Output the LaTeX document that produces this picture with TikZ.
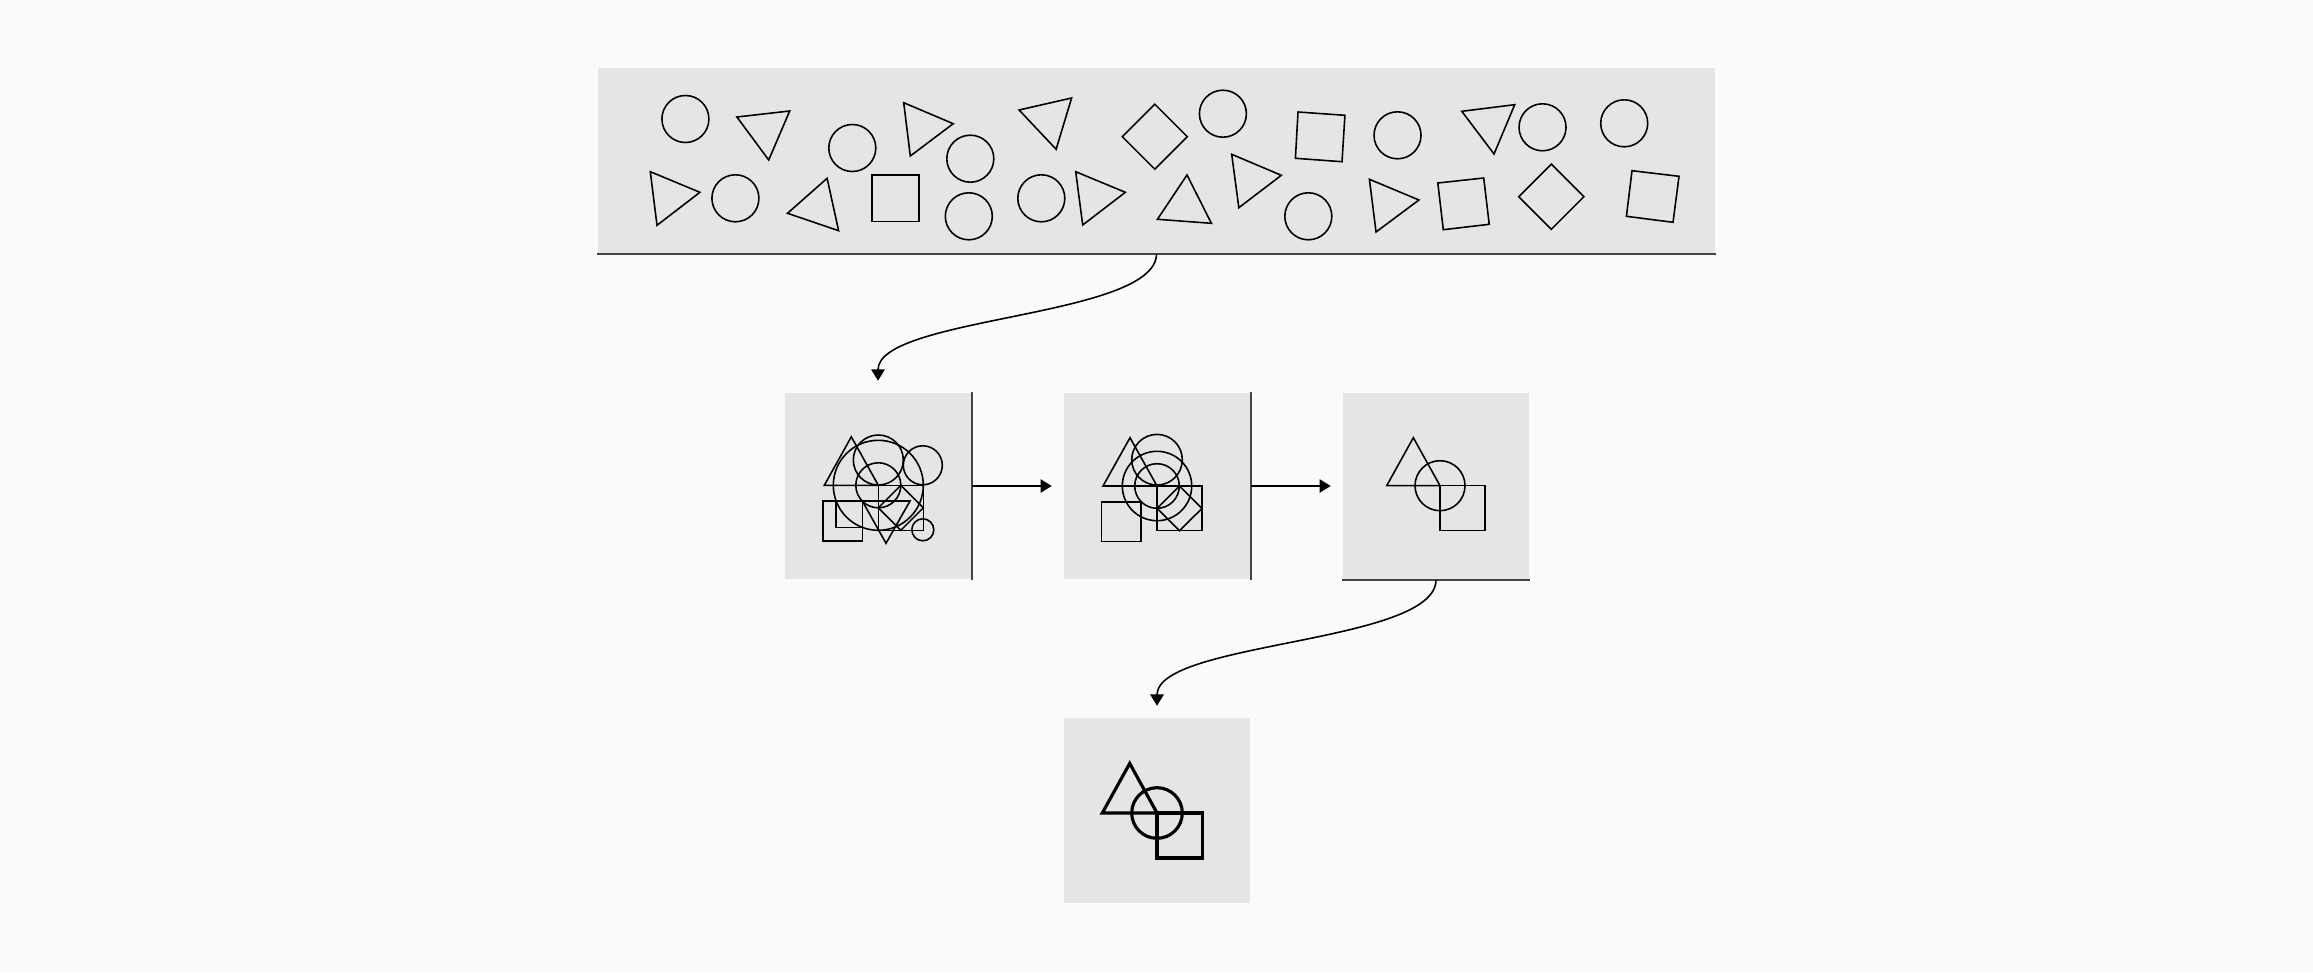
\documentclass[tikz,border=0pt]{standalone}
\usepackage{tikz}
\usetikzlibrary{arrows.meta}
\definecolor{paper}{RGB}{250,250,250}
\definecolor{panel}{RGB}{229,229,229}
\definecolor{rim}{RGB}{68,68,68}

\begin{document}
\begin{tikzpicture}[x=0.01cm, y=-0.01cm,
        box/.style={fill=panel, inner sep=0pt, minimum width=1.86cm, minimum height=1.86cm},
        outline/.style={draw=black, line width=0.45pt},
        heavy/.style={draw=black, line width=0.9pt},
        rimline/.style={rim, line width=0.6pt},
        link/.style={black, line width=0.45pt, -{Triangle[length=3.2pt,width=3.8pt]}, shorten >=0.115cm}]
            \fill[paper]                                      (0,0) rectangle (2313,973);
            \useasboundingbox                                 (0,0) rectangle (2313,973);
            \node[box, minimum width=11.17cm, minimum height=1.85cm] (pool)   at (1156.5,160.5) {};
            \node[box]                                                  (mixA)   at ( 878.0,486.0) {};
            \node[box]                                                  (mixB)   at (1157.0,486.0) {};
            \node[box]                                                  (mixC)   at (1436.0,486.0) {};
            \node[box, minimum height=1.85cm]                           (result) at (1157.0,810.5) {};
            \draw[rimline] (pool.south west) -- (pool.south east);
            \draw[rimline] (mixA.north east) -- (mixA.south east);
            \draw[rimline] (mixB.north east) -- (mixB.south east);
            \draw[rimline] (mixC.south west) -- (mixC.south east);
            \draw[link] (pool.south) .. controls +(0,64) and +(0,-76) .. (mixA.north);
            \draw[link] (mixA.east) -- (mixB.west);
            \draw[link] (mixB.east) -- (mixC.west);
            \draw[link] (mixC.south) .. controls +(0,64) and +(0,-76) .. (result.north);
            \draw[outline] ( 685.4,119.0) circle (23.5);
            \draw[outline] ( 852.3,148.0) circle (23.5);
            \draw[outline] ( 970.3,158.7) circle (23.5);
            \draw[outline] ( 735.4,198.3) circle (23.5);
            \draw[outline] ( 968.8,216.3) circle (23.5);
            \draw[outline] (1041.3,198.3) circle (23.5);
            \draw[outline] (1222.9,113.7) circle (23.5);
            \draw[outline] (1397.5,135.3) circle (23.5);
            \draw[outline] (1542.5,127.3) circle (23.5);
            \draw[outline] (1624.2,123.3) circle (23.5);
            \draw[outline] (1308.3,216.3) circle (23.5);
            \draw[outline] ( 736.9,117.0) -- ( 789.7,111.0) -- ( 768.7,160.0) -- cycle;
            \draw[outline] ( 903.7,102.7) -- ( 953.2,123.7) -- ( 910.3,156.0) -- cycle;
            \draw[outline] (1019.1,110.0) -- (1071.6, 98.0) -- (1056.1,149.3) -- cycle;
            \draw[outline] ( 650.3,171.7) -- ( 699.9,192.3) -- ( 657.0,225.3) -- cycle;
            \draw[outline] ( 787.5,213.3) -- ( 827.1,178.3) -- ( 838.6,230.7) -- cycle;
            \draw[outline] (1075.7,171.7) -- (1125.3,192.3) -- (1082.7,225.0) -- cycle;
            \draw[outline] (1187.0,175.0) -- (1157.4,219.3) -- (1211.4,223.3) -- cycle;
            \draw[outline] (1231.7,154.3) -- (1281.3,175.3) -- (1238.8,207.7) -- cycle;
            \draw[outline] (1461.8,111.3) -- (1514.7,104.7) -- (1494.0,154.0) -- cycle;
            \draw[outline] (1369.4,179.3) -- (1418.9,200.0) -- (1376.0,232.0) -- cycle;
            \draw[outline] ( 872.2,175.0) rectangle ( 919.2,221.7);
            \draw[outline] (1298.0,112.0) -- (1344.9,115.3) -- (1342.0,161.7) -- (1295.4,158.3) -- cycle;
            \draw[outline] (1437.8,183.0) -- (1483.7,178.0) -- (1489.2,224.3) -- (1443.3,229.7) -- cycle;
            \draw[outline] (1632.0,170.7) -- (1679.0,176.3) -- (1673.0,222.3) -- (1626.4,216.3) -- cycle;
            \draw[outline] (1154.8,104.2) -- (1187.3,136.7) -- (1154.8,169.2) -- (1122.3,136.7) -- cycle;
            \draw[outline] (1551.3,164.1) -- (1583.9,196.7) -- (1551.3,229.3) -- (1518.7,196.7) -- cycle;
            \begin{scope}[shift={(878.3,485.3)}]
                \draw[outline] (-54,0) -- (-27,-48.5) -- (0,0) -- cycle;
                \draw[outline] (0,0) rectangle (45,45);
                \draw[outline] (-55.6,15.7) rectangle (-16,55.7);
                \draw[outline] (-42.3,15.7) rectangle (-16,42);
                \draw[outline] (-16,15.7) -- (31.7,15.7) -- (7.7,58) -- cycle;
                \draw[outline] (0,22.5) -- (22.5,0) -- (45,22.5) -- (22.5,45) -- cycle;
                \draw[outline] (0,-25.3) circle (25);
                \draw[outline] (0,0) circle (45);
                \draw[outline] (0,0) circle (22.5);
                \draw[outline] (44.5,-20) circle (19.5);
                \draw[outline] (44.5,44.5) circle (11);
            \end{scope}
            \begin{scope}[shift={(1157,486)}]
                \draw[outline] (-54,0) -- (-27,-48.3) -- (0,0) -- cycle;
                \draw[outline] (0,0) rectangle (45,44.7);
                \draw[outline] (-55.7,16) rectangle (-16,55.3);
                \draw[outline] (0,22.4) -- (22.5,0) -- (45,22.4) -- (22.5,44.7) -- cycle;
                \draw[outline] (0,-26.3) circle (25.3);
                \draw[outline] (0,0) circle (34.7);
                \draw[outline] (0,0) circle (22.3);
            \end{scope}
            \begin{scope}[shift={(1440,485.7)}]
                \draw[outline] (-53.3,0) -- (-26.7,-48) -- (0,0) -- cycle;
                \draw[outline] (0,0) rectangle (45,45);
                \draw[outline] (0,0) circle (25);
            \end{scope}
            \begin{scope}[shift={(1157,813)}]
                \draw[heavy] (-54.7,0) -- (-27.3,-49.6) -- (0,0) -- cycle;
                \draw[heavy] (0,0) rectangle (45.3,45);
                \draw[heavy] (0,0) circle (25.3);
            \end{scope}
        \end{tikzpicture}
\end{document}
